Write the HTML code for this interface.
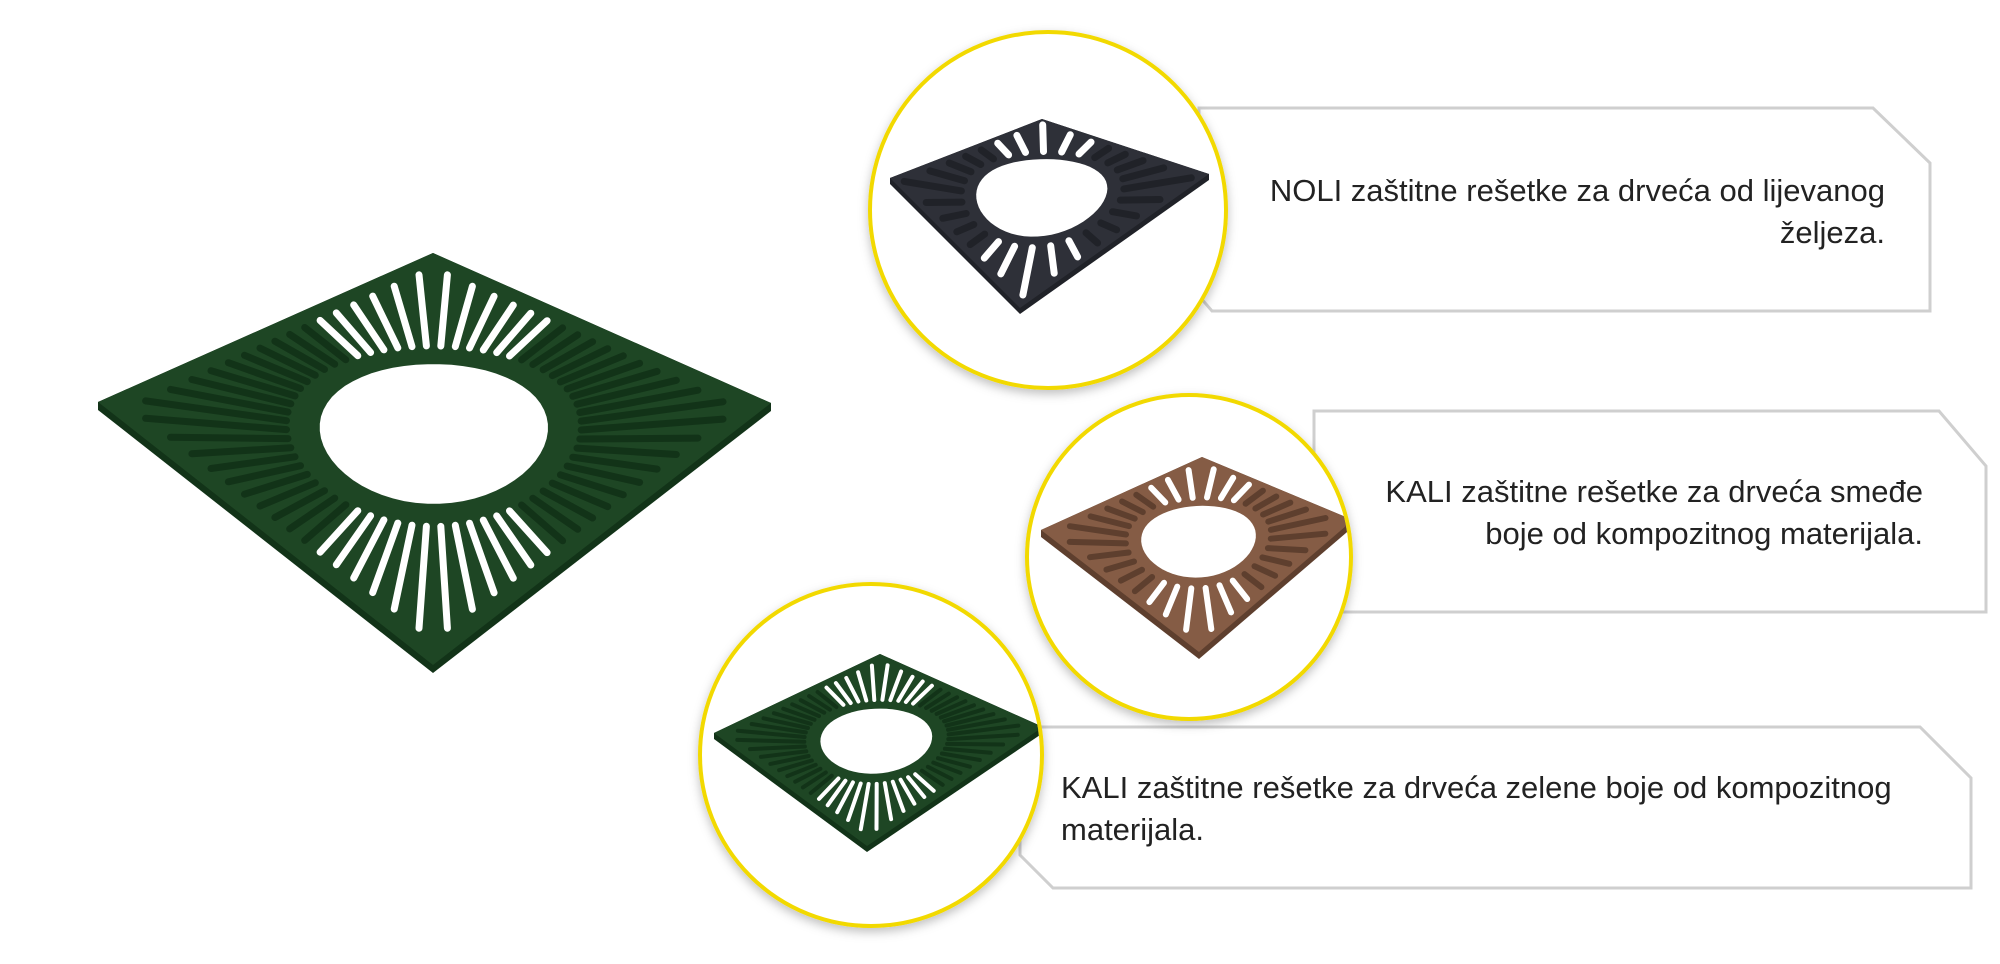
<!DOCTYPE html>
<html><head><meta charset="utf-8"><style>
html,body{margin:0;padding:0;background:#fff;}
body{width:2000px;height:964px;position:relative;overflow:hidden;font-family:"Liberation Sans",sans-serif;}
.t{position:absolute;font-size:31px;color:#222;line-height:42px;}
</style></head><body>
<svg id="s" width="2000" height="964" style="position:absolute;left:0;top:0">
<defs>
<filter id="sh" x="-20%" y="-20%" width="140%" height="140%"><feDropShadow dx="0" dy="4" stdDeviation="5" flood-color="#000" flood-opacity="0.25"/></filter>
<clipPath id="c1"><circle cx="1048" cy="210" r="176"/></clipPath>
<clipPath id="c2"><circle cx="1189" cy="557" r="160"/></clipPath>
<clipPath id="c3"><circle cx="871" cy="755" r="169"/></clipPath>
</defs>
<polygon points="1199,108 1873,108 1930,163 1930,311 1212,311 1199,296" fill="#fff" stroke="#cfcfcf" stroke-width="3"/>
<polygon points="1314,411 1939,411 1986,466 1986,612 1314,612" fill="#fff" stroke="#cfcfcf" stroke-width="3"/>
<polygon points="1020,727 1920,727 1971,778 1971,888 1053,888 1020,855" fill="#fff" stroke="#cfcfcf" stroke-width="3"/>
<g id="big"></g>
<circle cx="1048" cy="210" r="178" fill="#fff" stroke="#f2d900" stroke-width="4" filter="url(#sh)"/>
<g id="g1" clip-path="url(#c1)"></g>
<circle cx="1189" cy="557" r="162" fill="#fff" stroke="#f2d900" stroke-width="4" filter="url(#sh)"/>
<g id="g2" clip-path="url(#c2)"></g>
<circle cx="871" cy="755" r="171" fill="#fff" stroke="#f2d900" stroke-width="4" filter="url(#sh)"/>
<g id="g3" clip-path="url(#c3)"></g>
</svg>
<div class="t" style="right:115px;top:170px;text-align:right;">NOLI zaštitne rešetke za drveća od lijevanog<br>željeza.</div>
<div class="t" style="right:77px;top:471px;text-align:right;">KALI zaštitne rešetke za drveća smeđe<br>boje od kompozitnog materijala.</div>
<div class="t" style="left:1061px;top:767px;">KALI zaštitne rešetke za drveća zelene boje od kompozitnog<br>materijala.</div>
<script>
function grate(id,L,T,R,B,col,dark,n,hole,sw,th){
 var g=document.getElementById(id),h="";
 function m(u,v){var x=(1-u)*(1-v)*T[0]+u*(1-v)*R[0]+u*v*B[0]+(1-u)*v*L[0];
  var y=(1-u)*(1-v)*T[1]+u*(1-v)*R[1]+u*v*B[1]+(1-u)*v*L[1];return [x,y];}
 h+='<polygon points="'+L[0]+','+L[1]+' '+T[0]+','+T[1]+' '+R[0]+','+R[1]+' '+R[0]+','+(R[1]+th)+' '+B[0]+','+(B[1]+th)+' '+L[0]+','+(L[1]+th)+'" fill="'+dark+'"/>';
 h+='<polygon points="'+L.join(',')+' '+T.join(',')+' '+R.join(',')+' '+B.join(',')+'" fill="'+col+'"/>';
 var ho="";for(var i=0;i<60;i++){var a=i/60*2*Math.PI;var p=m(0.5+hole*Math.cos(a),0.5+hole*Math.sin(a));ho+=p[0].toFixed(1)+','+p[1].toFixed(1)+' ';}
 for(var i=0;i<n;i++){var a=(i+0.5)/n*2*Math.PI,c=Math.cos(a),s=Math.sin(a);
  var e=0.5/Math.max(Math.abs(c),Math.abs(s));var r0=hole+0.07,r1=e*0.9;
  var p0=m(0.5+r0*c,0.5+r0*s),p1=m(0.5+r1*c,0.5+r1*s);
  var dy=(p1[1]-p0[1]),dx=(p1[0]-p0[0]);var vert=Math.abs(dy)>Math.abs(dx)*0.9;
  var clr=vert?'#fff':dark;
  h+='<line x1="'+p0[0].toFixed(1)+'" y1="'+p0[1].toFixed(1)+'" x2="'+p1[0].toFixed(1)+'" y2="'+p1[1].toFixed(1)+'" stroke="'+clr+'" stroke-width="'+sw+'" stroke-linecap="round"/>';}
 h+='<polygon points="'+ho+'" fill="#fff"/>';
 g.innerHTML=h;
}
grate("big",[98,402],[433,253],[771,403],[433,665],"#1e4624","#123318",64,0.24,7,8);
grate("g1",[890,178],[1042,119],[1209,174],[1020,308],"#2e3038","#202228",28,0.29,7,6);
grate("g2",[1041,530],[1202,457],[1353,520],[1199,652],"#855c45","#5e3f2e",32,0.26,6,7);
grate("g3",[714,733],[880,654],[1043,727],[867,846],"#1e4624","#123318",56,0.24,4,6);
</script>
</body></html>
